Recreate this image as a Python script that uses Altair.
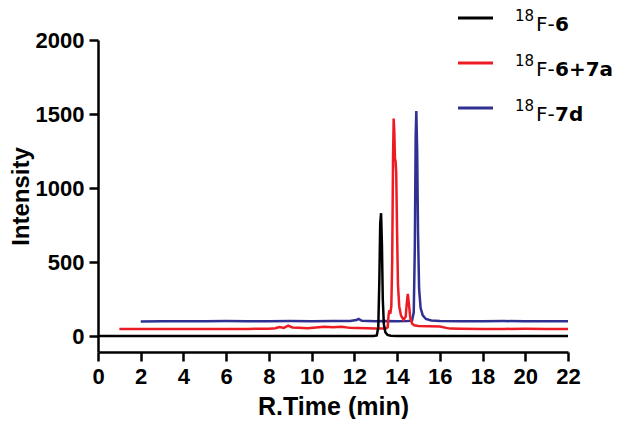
import altair as alt
import pandas as pd

# ---- data ----
black_t = [0, 2, 4, 6, 8, 10, 12, 12.9, 13.05, 13.12, 13.17, 13.21, 13.25, 13.29, 13.33, 13.38,
           13.45, 13.55, 13.7, 14, 16, 18, 20, 22]
black_y = [0, 0, 0, 0, 0, 0, 0, 0, 4, 60, 380, 760, 830, 620, 250, 80, 25, 8, 2, 0, 0, 0, 0, 0]

red_t = [1.0, 2, 3, 4, 5, 6, 7, 8, 8.3, 8.5, 8.7, 8.9, 9.1, 9.4, 9.8, 10.2, 10.6, 11.0, 11.4,
         11.8, 12.2, 12.6, 13.0, 13.3, 13.5, 13.56, 13.6, 13.64, 13.68, 13.73, 13.77, 13.81,
         13.84, 13.87, 13.9, 13.93, 13.96, 14.0, 14.04, 14.1, 14.18, 14.3, 14.4, 14.46, 14.5,
         14.55, 14.62, 14.7, 14.8, 15.0, 15.5, 16.0, 16.3, 16.5, 17, 18, 19, 20, 21, 22]
red_y = [47, 48, 47, 48, 47, 48, 48, 49, 52, 60, 55, 70, 58, 56, 52, 58, 62, 60, 62,
         55, 54, 52, 50, 50, 52, 60, 140, 175, 150, 200, 500, 1200,
         1470, 1380, 1200, 1180, 1100, 700, 350, 200, 140, 110, 130, 230, 285,
         220, 120, 85, 72, 68, 66, 64, 55, 50, 49, 48, 48, 49, 48, 48]

blue_t = [2.0, 3, 4, 5, 6, 7, 8, 9, 10, 11, 11.8, 12.1, 12.2, 12.35, 13, 13.5, 14, 14.5, 14.7,
          14.78, 14.83, 14.87, 14.9, 14.94, 14.98, 15.03, 15.1, 15.2, 15.35, 15.6, 16, 17, 18,
          19, 20, 21, 22]
blue_y = [98, 100, 99, 100, 101, 99, 100, 101, 100, 102, 101, 108, 116, 103, 100, 101, 100,
          101, 104, 160, 600, 1350, 1520, 1250, 700, 320, 190, 140, 115, 105, 101, 100, 100,
          101, 99, 100, 100]

x_ticks = list(range(0, 23, 2))
y_ticks = [0, 500, 1000, 1500, 2000]

series_names = ["18F-6", "18F-6+7a", "18F-7d"]
series_bold = ["6", "6+7a", "7d"]
series_colors = ["#000000", "#ed1c24", "#2e3192"]

FONT = "Liberation Sans"
LEG_FONT = "DejaVu Sans"

x_scale = alt.Scale(domain=[0, 22], nice=False, zero=False)
y_scale = alt.Scale(domain=[-108, 2000], nice=False, zero=False)

x_axis = alt.Axis(values=x_ticks, title="R.Time (min)", grid=False, domainColor="black",
                  domainWidth=2.5, tickColor="black", tickWidth=2.5, tickSize=9,
                  labelFont=FONT, labelFontSize=22, labelFontWeight="bold", labelColor="black",
                  labelPadding=5, labelFlush=False, labelOverlap=False,
                  titleFont=FONT, titleFontSize=25, titleFontWeight="bold",
                  titleColor="black", titleY=62, titleBaseline="alphabetic")
y_axis = alt.Axis(values=y_ticks, format="d", title="Intensity", grid=False,
                  domainColor="black", domainWidth=2.5, tickColor="black", tickWidth=2.5,
                  tickSize=9, labelFont=FONT, labelFontSize=22, labelFontWeight="bold",
                  labelColor="black", labelPadding=5, labelFlush=False, labelOverlap=False,
                  titleFont=FONT, titleFontSize=24, titleFontWeight="bold",
                  titleColor="black", titleX=-70, titleY=156, titleAngle=-90,
                  titleAlign="center", titleBaseline="alphabetic")


def trace(ts, ys, color):
    df = pd.DataFrame({"t": ts, "v": ys})
    return alt.Chart(df).mark_line(color=color, strokeWidth=2.5).encode(
        x=alt.X("t:Q", scale=x_scale, axis=x_axis),
        y=alt.Y("v:Q", scale=y_scale, axis=y_axis),
        order="t:Q",
    )


layers = [
    trace(blue_t, blue_y, series_colors[2]),
    trace(red_t, red_y, series_colors[1]),
    trace(black_t, black_y, series_colors[0]),
]

# ---- custom legend (superscript isotope + bold compound number) ----
one = pd.DataFrame({"a": [0]})
line_y = [-22, 23, 68]
for i, name in enumerate(series_names):
    ly = line_y[i]
    layers.append(alt.Chart(one).mark_rule(color=series_colors[i], strokeWidth=3).encode(
        x=alt.value(360), x2=alt.value(395), y=alt.value(ly)))
    layers.append(alt.Chart(one).mark_text(text="18", font=LEG_FONT, fontSize=15, align="left",
                                            baseline="alphabetic", color="black").encode(
        x=alt.value(417), y=alt.value(ly + 3)))
    layers.append(alt.Chart(one).mark_text(text="F-", font=LEG_FONT, fontSize=20, align="left",
                                            baseline="alphabetic", color="black").encode(
        x=alt.value(438), y=alt.value(ly + 13)))
    layers.append(alt.Chart(one).mark_text(text=series_bold[i], font=LEG_FONT, fontSize=20,
                                            fontWeight="bold", align="left",
                                            baseline="alphabetic", color="black").encode(
        x=alt.value(457), y=alt.value(ly + 13)))

chart = alt.layer(*layers).properties(
    width=470, height=312,
    autosize=alt.AutoSizeParams(type="none"),
    padding={"left": 90, "top": 32, "right": 49, "bottom": 67},
    background="white",
).configure_view(stroke=None)

chart.save("out.html", embed_options={"renderer": "svg", "actions": False})
